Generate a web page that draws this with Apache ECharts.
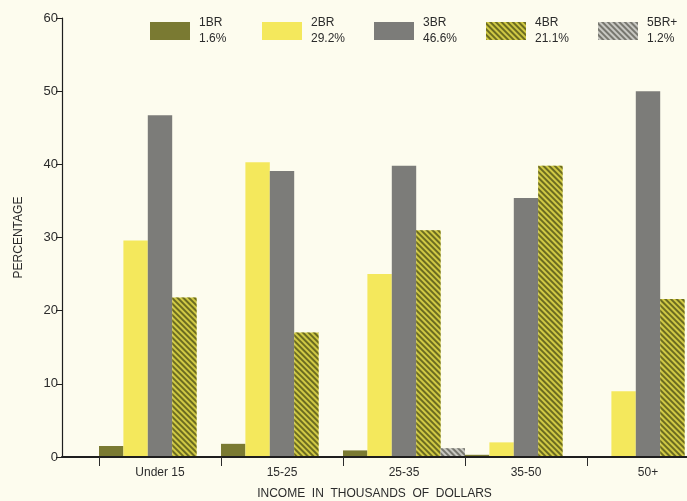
<!DOCTYPE html>
<html>
<head>
<meta charset="utf-8">
<script src="https://cdn.jsdelivr.net/npm/echarts@6/dist/echarts.min.js"></script>
<style>
html,body{margin:0;padding:0;background:#fdfcee;}
#chart{width:687px;height:501px;}
</style>
</head>
<body>
<div id="chart"></div>
<script>
// Data
var categories = ['Under 15', '15-25', '25-35', '35-50', '50+'];
var seriesNames = ['1BR', '2BR', '3BR', '4BR', '5BR+'];
var legendShares = ['1.6%', '29.2%', '46.6%', '21.1%', '1.2%'];
var br1 = [1.5, 1.8, 0.9, 0.3, 0];
var br2 = [29.6, 40.3, 25.0, 2.0, 9.0];
var br3 = [46.7, 39.1, 39.8, 35.4, 50.0];
var br4 = [21.8, 17.0, 31.0, 39.8, 21.6];
var br5 = [0, 0, 1.2, 0, 0];
var yTicks = { min: 0, max: 60, interval: 10 };
var yAxisTitle = 'PERCENTAGE';
var xAxisTitle = 'INCOME  IN  THOUSANDS  OF  DOLLARS';

var seriesData = [br1, br2, br3, br4, br5];
var styles = [
  { color: '#7a7a32' },
  { color: '#f4e85c' },
  { color: '#7c7c79' },
  { color: '#d0c944', decal: { symbol: 'rect', symbolSize: 1, dashArrayX: [1, 0], dashArrayY: [1.6, 1.6], rotation: Math.PI / 4, color: '#6c6c20' } },
  { color: '#c8c8c2', decal: { symbol: 'rect', symbolSize: 1, dashArrayX: [1, 0], dashArrayY: [1.6, 1.4], rotation: Math.PI / 4, color: '#77776f' } }
];

var font = 'Liberation Sans, Arial, sans-serif';
var chart = echarts.init(document.getElementById('chart'), null, { renderer: 'canvas' });
var option = {
  backgroundColor: '#fdfcee',
  animation: false,
  aria: { enabled: false, decal: { show: false } },
  legend: {
    data: seriesNames,
    left: 150, top: 9, width: 560, padding: 0,
    itemWidth: 40, itemHeight: 18, itemGap: 10,
    icon: 'rect',
    formatter: function (name) { return name + '\n' + legendShares[seriesNames.indexOf(name)]; },
    textStyle: { fontFamily: font, fontSize: 12, color: '#2b2b2b', width: 53, lineHeight: 16, padding: [12, 0, 0, 4], overflow: 'none' }
  },
  grid: [
    { left: 62, right: 0, top: 18, bottom: 44, outerBoundsMode: 'none', containLabel: false },
    { left: 99, width: 610, top: 18, bottom: 44, outerBoundsMode: 'none', containLabel: false }
  ],
  xAxis: [
    {
      gridIndex: 0, type: 'value', min: 0, max: 1, z: 10,
      axisLine: { show: true, lineStyle: { color: '#1e1e1e', width: 2 } },
      axisTick: { show: false }, axisLabel: { show: false }, splitLine: { show: false },
      name: xAxisTitle, nameLocation: 'middle', nameGap: 31,
      nameTextStyle: { fontFamily: font, fontSize: 12, color: '#2b2b2b' }
    },
    {
      gridIndex: 1, type: 'category', data: categories, z: 10,
      axisLine: { show: true, lineStyle: { color: '#1e1e1e', width: 2 } },
      axisTick: { show: true, length: 9, interval: 0, lineStyle: { color: '#2b2b2b', width: 1 } },
      axisLabel: { fontFamily: font, fontSize: 12, color: '#2b2b2b', margin: 10, interval: 0 }
    }
  ],
  yAxis: [
    {
      gridIndex: 0, type: 'value', min: yTicks.min, max: yTicks.max, interval: yTicks.interval, z: 10,
      axisLine: { show: true, lineStyle: { color: '#1e1e1e', width: 1.2 } },
      axisTick: { show: true, length: 6, lineStyle: { color: '#1e1e1e' } },
      axisLabel: { fontFamily: font, fontSize: 13, color: '#2b2b2b', margin: 4 },
      splitLine: { show: false },
      name: yAxisTitle, nameLocation: 'middle', nameGap: 37, nameRotate: 90,
      nameTextStyle: { fontFamily: font, fontSize: 12, color: '#2b2b2b' }
    },
    {
      gridIndex: 1, type: 'value', min: yTicks.min, max: yTicks.max, interval: yTicks.interval, show: false
    }
  ],
  series: seriesNames.map(function (n, i) {
    return {
      name: n, type: 'bar', xAxisIndex: 1, yAxisIndex: 1,
      data: seriesData[i],
      barGap: '0%', barCategoryGap: '0%',
      itemStyle: styles[i]
    };
  })
};
chart.setOption(option);
</script>
</body>
</html>
